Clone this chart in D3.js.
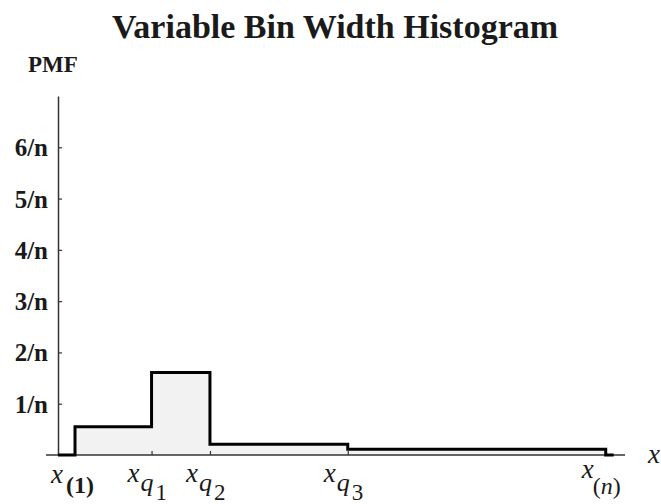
<!DOCTYPE html>
<html lang="en">
<head>
<meta charset="utf-8">
<title>Variable Bin Width Histogram</title>
<script src="https://d3js.org/d3.v7.js"></script>
<style>
  body { margin: 0; background: #fff; }
  svg { display: block; }
  text { font-family: "Liberation Serif", "Times New Roman", serif; }
</style>
</head>
<body>
<div id="my_dataviz"></div>
<script>

// bin edges (x(1), xq1, xq2, xq3, x(n)) and heights in units of 1/n
const binEdges = [3, 16.5, 26.8, 51.1, 96.6];
const binHeights = [0.55, 1.61, 0.21, 0.11];
const edgeNames = ["(1)", "q1", "q2", "q3", "(n)"];
const yTicks = [1, 2, 3, 4, 5, 6];
const yTickLabels = ["1/n", "2/n", "3/n", "4/n", "5/n", "6/n"];

const W = 661, H = 504;

const svg = d3.select("#my_dataviz")
  .append("svg")
    .attr("width", W)
    .attr("height", H);

svg.append("rect").attr("width", W).attr("height", H).attr("fill", "#fff");

// scales
const x = d3.scaleLinear().domain([0, 100]).range([58, 625]);
const y = d3.scaleLinear().domain([0, 7]).range([455, 96]);

// step outline points
const pts = [[0, 0]];
binEdges.forEach((e, i) => pts.push([e, i < binHeights.length ? binHeights[i] : 0]));
pts.push([98, 0]);

// filled area under the bins
const area = d3.area()
  .curve(d3.curveStepAfter)
  .x(d => x(d[0]))
  .y0(y(0))
  .y1(d => y(d[1]));
svg.append("path")
  .datum(pts.slice(1, binEdges.length + 1))
  .attr("d", area)
  .attr("fill", "#f2f2f2");

// x axis
svg.append("line")
  .attr("x1", 46).attr("x2", x(100))
  .attr("y1", y(0)).attr("y2", y(0))
  .attr("stroke", "#333").attr("stroke-width", 1.5);

const xAxis = svg.append("g")
  .attr("transform", `translate(0, ${y(0)})`)
  .call(d3.axisBottom(x).tickValues(binEdges).tickSize(-4).tickFormat(""));
xAxis.select(".domain").remove();
xAxis.selectAll(".tick line").attr("stroke", "#333").attr("stroke-width", 1.2);

// y axis
const yAxis = svg.append("g")
  .attr("transform", `translate(${x(0)}, 0)`)
  .call(d3.axisLeft(y).tickValues(yTicks).tickSize(-4).tickSizeOuter(0)
    .tickFormat((d, i) => yTickLabels[i]));
yAxis.select(".domain").attr("stroke", "#333").attr("stroke-width", 1.5);
yAxis.selectAll(".tick line").attr("stroke", "#333").attr("stroke-width", 1.2);
yAxis.selectAll(".tick text")
  .attr("x", -10)
  .attr("dy", "0.34em")
  .style("font-family", "'Liberation Serif', serif")
  .style("font-size", "25px")
  .style("font-weight", "bold")
  .attr("fill", "#1a1a1a");

// step outline
svg.append("path")
  .datum(pts)
  .attr("d", d3.line().curve(d3.curveStepAfter).x(d => x(d[0])).y(d => y(d[1])))
  .attr("fill", "none")
  .attr("stroke", "#000")
  .attr("stroke-width", 3);

// x labels: x with subscript, placed left of each edge
binEdges.forEach((e, i) => {
  const s = edgeNames[i];
  const lx = x(e) - 24;
  const last = i == edgeNames.length - 1;
  const by = last ? 478 : (i == 0 ? 483 : 482);
  const g = svg.append("g").attr("fill", "#1a1a1a");
  g.append("text")
    .attr("x", lx).attr("y", by)
    .attr("font-size", 27).attr("font-style", "italic")
    .text("x");
  if (s[0] == "(") {
    const t = g.append("text")
      .attr("x", lx + (last ? 11 : 15)).attr("y", last ? 494 : 493)
      .attr("font-size", last ? 24 : 24)
      .attr("font-weight", last ? "normal" : "bold");
    t.append("tspan").text("(");
    t.append("tspan").attr("font-style", last ? "italic" : "normal").text(s[1]);
    t.append("tspan").text(")");
  } else {
    g.append("text")
      .attr("x", lx + 13).attr("y", 491)
      .attr("font-size", 26).attr("font-style", "italic")
      .text(s[0]);
    g.append("text")
      .attr("x", lx + 28).attr("y", 500)
      .attr("font-size", 23)
      .text(s[1]);
  }
});

// axis variable label
svg.append("text")
  .attr("x", 648).attr("y", 463)
  .attr("font-size", 27).attr("font-style", "italic")
  .attr("fill", "#1a1a1a")
  .text("x");

// title and y label
svg.append("text")
  .attr("x", 335).attr("y", 38)
  .attr("text-anchor", "middle")
  .attr("font-size", 34).attr("font-weight", "bold")
  .attr("fill", "#1a1a1a")
  .text("Variable Bin Width Histogram");

svg.append("text")
  .attr("x", 28).attr("y", 72)
  .attr("font-size", 23).attr("font-weight", "bold")
  .attr("fill", "#1a1a1a")
  .text("PMF");

</script>
</body>
</html>
